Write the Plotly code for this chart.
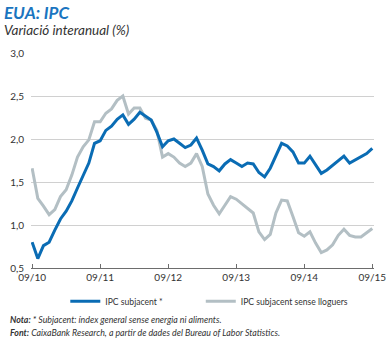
import plotly.graph_objects as go

months = list(range(61))  # 09/2010 .. 09/2015, monthly
tick_vals = [0, 12, 24, 36, 48, 60]
tick_labels = ["09/10", "09/11", "09/12", "09/13", "09/14", "09/15"]

ipc_subjacent = [
    0.80, 0.61, 0.76, 0.80, 0.94, 1.07, 1.16, 1.28, 1.43, 1.57,
    1.72, 1.95, 1.98, 2.10, 2.15, 2.23, 2.28, 2.17, 2.23, 2.31,
    2.26, 2.22, 2.08, 1.91, 1.98, 2.00, 1.95, 1.90, 1.93, 2.01,
    1.87, 1.71, 1.68, 1.63, 1.71, 1.76, 1.72, 1.68, 1.72, 1.71,
    1.61, 1.56, 1.66, 1.81, 1.95, 1.92, 1.85, 1.72, 1.72, 1.80,
    1.70, 1.60, 1.64, 1.69, 1.74, 1.80, 1.72, 1.76, 1.80, 1.83,
    1.89,
]
ipc_sense_lloguers = [
    1.66, 1.31, 1.22, 1.12, 1.18, 1.33, 1.41, 1.58, 1.79, 1.91,
    1.99, 2.20, 2.20, 2.30, 2.35, 2.45, 2.50, 2.29, 2.36, 2.36,
    2.24, 2.22, 2.10, 1.79, 1.83, 1.79, 1.72, 1.68, 1.72, 1.83,
    1.68, 1.36, 1.23, 1.13, 1.23, 1.33, 1.30, 1.25, 1.19, 1.14,
    0.92, 0.83, 0.89, 1.14, 1.29, 1.28, 1.10, 0.91, 0.87, 0.92,
    0.79, 0.68, 0.71, 0.77, 0.88, 0.95, 0.88, 0.86, 0.86, 0.91,
    0.96,
]
y_ticks = [0.5, 1.0, 1.5, 2.0, 2.5, 3.0]

BLUE = "#0a6cb4"
GREY = "#b3bfc4"
FONT = "Lato"

fig = go.Figure()
fig.add_trace(go.Scatter(x=months, y=ipc_sense_lloguers, mode="lines",
                         name="IPC subjacent sense lloguers", legend="legend2",
                         line=dict(color=GREY, width=3)))
fig.add_trace(go.Scatter(x=months, y=ipc_subjacent, mode="lines",
                         name="IPC subjacent *", legend="legend",
                         line=dict(color=BLUE, width=3)))

leg_common = dict(orientation="h", yanchor="middle", xanchor="left",
                  font=dict(family=FONT, size=8.6, color="#333333"),
                  itemwidth=30, bgcolor="rgba(0,0,0,0)")

fig.update_layout(
    width=391, height=338,
    margin=dict(l=31, r=17, t=53, b=70, autoexpand=False),
    paper_bgcolor="white", plot_bgcolor="white",
    separators=",.",
    font=dict(family=FONT, size=10, color="#333333"),
    showlegend=True,
    legend=dict(x=0.10, y=-0.155, **leg_common),
    legend2=dict(x=0.495, y=-0.155, **leg_common),
)
fig.update_xaxes(range=[-0.2, 60.3], tickvals=tick_vals, ticktext=tick_labels,
                 showgrid=False, zeroline=False,
                 showline=True, linecolor="#6d6d6d", linewidth=1,
                 ticks="inside", ticklen=4, tickcolor="#6d6d6d",
                 tickfont=dict(family=FONT, size=10, color="#333333"))
fig.update_yaxes(range=[0.5, 3.0], tickvals=y_ticks, tickformat=".1f",
                 showgrid=True, gridcolor="#d0d0d0", gridwidth=1,
                 zeroline=False, showline=False, ticks="",
                 ticklabelstandoff=6,
                 tickfont=dict(family=FONT, size=10, color="#333333"))

fig.add_annotation(text="<b><i>EUA: IPC</i></b>", xref="paper", yref="paper",
                   x=-0.086, y=1.0, yshift=41, xanchor="left", yanchor="middle",
                   showarrow=False, font=dict(family=FONT, size=17, color="#1a75c0"))
fig.add_annotation(text="<i>Variació interanual (%)</i>", xref="paper", yref="paper",
                   x=-0.086, y=1.0, yshift=23, xanchor="left", yanchor="middle",
                   showarrow=False, font=dict(family=FONT, size=13.5, color="#333333"))
fig.add_annotation(text="<b><i>Nota:</i></b><i> * Subjacent: índex general sense energia ni aliments.</i>",
                   xref="paper", yref="paper", x=-0.068, y=0, yshift=-51,
                   xanchor="left", yanchor="middle", showarrow=False,
                   font=dict(family=FONT, size=8.8, color="#333333"))
fig.add_annotation(text="<b><i>Font:</i></b><i> CaixaBank Research, a partir de dades del Bureau of Labor Statistics.</i>",
                   xref="paper", yref="paper", x=-0.068, y=0, yshift=-64,
                   xanchor="left", yanchor="middle", showarrow=False,
                   font=dict(family=FONT, size=8.8, color="#333333"))

fig.write_html("out.html")
